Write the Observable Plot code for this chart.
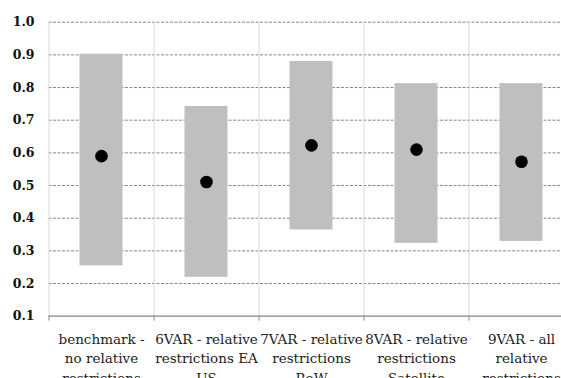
<!DOCTYPE html>
<html>
<head>
<meta charset="utf-8">
<script src="https://cdn.jsdelivr.net/npm/d3@7"></script>
<script src="https://cdn.jsdelivr.net/npm/@observablehq/plot@0.6"></script>
<style>
  html, body { margin: 0; padding: 0; background: #fff; overflow: hidden; }
  svg { overflow: hidden; }
</style>
</head>
<body>
<div id="chart"></div>
<script>
const categories = [
  "benchmark -\nno relative\nrestrictions",
  "6VAR - relative\nrestrictions EA\nUS",
  "7VAR - relative\nrestrictions\nRoW",
  "8VAR - relative\nrestrictions\nSatellite",
  "9VAR - all\nrelative\nrestrictions"
];
const lowValues  = [0.254, 0.219, 0.364, 0.323, 0.329];
const highValues = [0.902, 0.742, 0.880, 0.812, 0.812];
const medianValues = [0.590, 0.511, 0.623, 0.610, 0.573];
const yTicks = [0.1, 0.2, 0.3, 0.4, 0.5, 0.6, 0.7, 0.8, 0.9, 1.0];

const data = categories.map((c, i) => ({
  idx: i, cat: c, low: lowValues[i], high: highValues[i], mid: medianValues[i]
}));
const boundaries = d3.range(categories.length + 1);
const centers = categories.map((c, i) => i + 0.5);

const chart = Plot.plot({
  width: 561,
  height: 378,
  marginTop: 21.7,
  marginBottom: 62.3,
  marginLeft: 48.5,
  marginRight: 0,
  style: {background: "#fff"},
  x: {type: "linear", domain: [0, categories.length], range: [48.5, 573.5], label: null},
  y: {domain: [0.1, 1.0], range: [315.7, 21.7], label: null},
  marks: [
    Plot.ruleY(yTicks.slice(1), {stroke: "#878787", strokeWidth: 1, strokeDasharray: "3,1.5"}),
    Plot.ruleX(boundaries, {y1: 0.1, y2: 1.0, stroke: "#d9d9d9", strokeWidth: 1}),
    Plot.rectY(data, {x1: "idx", x2: d => d.idx + 1, y1: "low", y2: "high", fill: "#bfbfbf", insetLeft: 31, insetRight: 31}),
    Plot.dot(data, {x: d => d.idx + 0.5, y: "mid", r: 6.3, fill: "#000", stroke: "none"}),
    Plot.ruleY([0.1], {stroke: "#878787", strokeWidth: 1.3}),
    Plot.axisX({ticks: boundaries, tickSize: 5, tickFormat: () => "", stroke: "#878787", label: null}),
    Plot.axisX({ticks: centers, tickSize: 0, tickPadding: 14.5, tickFormat: v => categories[Math.floor(v)],
      fontFamily: "DejaVu Serif", fontSize: 13.5, lineHeight: 1.42, fill: "#222", lineAnchor: "top", label: null}),
    Plot.axisY({ticks: yTicks, tickSize: 0, tickPadding: 14.5, tickFormat: d3.format(".1f"),
      fontFamily: "DejaVu Serif", fontWeight: "bold", fontSize: 12.5, fill: "#111", label: null})
  ]
});
document.getElementById("chart").appendChild(chart);
</script>
</body>
</html>
